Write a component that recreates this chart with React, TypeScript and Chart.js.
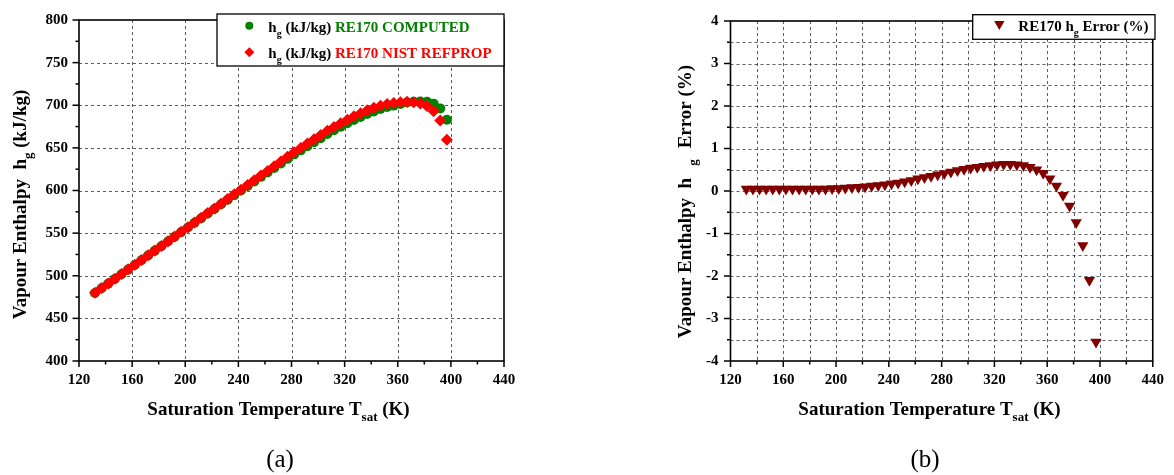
import React, { useEffect, useRef } from "react";
import { Chart, registerables } from "chart.js";

Chart.register(...registerables);

const FONT = "'Liberation Serif', 'Times New Roman', Times, serif";

// Saturation temperature (K)
const TEMPS = [
  132, 137, 142, 147, 152, 157, 162, 167, 172, 177,
  182, 187, 192, 197, 202, 207, 212, 217, 222, 227,
  232, 237, 242, 247, 252, 257, 262, 267, 272, 277,
  282, 287, 292, 297, 302, 307, 312, 317, 322, 327,
  332, 337, 342, 347, 352, 357, 362, 367, 372, 377,
  382, 387, 392, 397,
];

// h_g (kJ/kg) RE170 NIST REFPROP
const HG_NIST = [
  480, 485.5, 491, 496.5, 502, 507.5, 513, 518.5, 524, 529.5,
  535, 540.5, 546, 551.5, 557, 562.5, 568, 573.5, 579, 584.5,
  590, 595.5, 601, 606.5, 612, 617.5, 623, 628.5, 634, 639.5,
  645, 650, 655, 660, 665, 670, 674.5, 679, 683, 687,
  690.5, 694, 697, 699.5, 701.5, 702.5, 703.5, 704, 703.5, 702,
  699, 693, 682, 659.5,
];

// h_g (kJ/kg) RE170 COMPUTED
const HG_COMPUTED = [
  479.8, 485.3, 490.8, 496.3, 501.7, 507.2, 512.7, 518.2, 523.7, 529.2,
  534.7, 540.2, 545.7, 551.2, 556.7, 562.1, 567.5, 573.0, 578.4, 583.8,
  589.2, 594.6, 600.0, 605.3, 610.7, 616.0, 621.2, 626.5, 631.8, 637.1,
  642.4, 647.1, 651.9, 656.6, 661.4, 666.3, 670.6, 674.9, 678.8, 682.7,
  686.2, 689.7, 692.8, 695.6, 698.0, 699.6, 701.5, 703.2, 704.2, 704.5,
  704.2, 701.9, 696.3, 682.9,
];

// RE170 h_g Error (%)
const HG_ERROR = [
  0.05, 0.05, 0.05, 0.05, 0.05, 0.05, 0.05, 0.05, 0.05, 0.05,
  0.05, 0.05, 0.05, 0.06, 0.06, 0.07, 0.08, 0.09, 0.10, 0.12,
  0.13, 0.15, 0.17, 0.19, 0.22, 0.25, 0.29, 0.32, 0.35, 0.38,
  0.41, 0.45, 0.48, 0.51, 0.54, 0.56, 0.58, 0.60, 0.62, 0.63,
  0.63, 0.62, 0.60, 0.56, 0.50, 0.42, 0.29, 0.12, -0.10, -0.35,
  -0.74, -1.28, -2.10, -3.55,
];

type Seg = { t: string; sub?: boolean; color?: string; gap?: number; normal?: boolean };

function segFont(size: number, s: Seg) {
  const sz = s.sub ? Math.round(size * 0.66) : size;
  return `${s.normal ? "" : "bold "}${sz}px ${FONT}`;
}

function richWidth(ctx: CanvasRenderingContext2D, segs: Seg[], size: number) {
  let w = 0;
  for (const s of segs) {
    ctx.font = segFont(size, s);
    w += (s.gap || 0) + ctx.measureText(s.t).width;
  }
  return w;
}

function drawRich(
  ctx: CanvasRenderingContext2D,
  segs: Seg[],
  x: number,
  y: number,
  size: number,
  align: "left" | "center"
) {
  let cx = align === "center" ? x - richWidth(ctx, segs, size) / 2 : x;
  ctx.textBaseline = "alphabetic";
  ctx.textAlign = "left";
  for (const s of segs) {
    ctx.font = segFont(size, s);
    cx += s.gap || 0;
    ctx.fillStyle = s.color || "#000";
    ctx.fillText(s.t, cx, s.sub ? y + size * 0.33 : y);
    cx += ctx.measureText(s.t).width;
  }
}

function drawMarker(ctx: CanvasRenderingContext2D, kind: string, x: number, y: number, r: number, color: string) {
  ctx.fillStyle = color;
  ctx.beginPath();
  if (kind === "circle") {
    ctx.arc(x, y, r, 0, Math.PI * 2);
  } else if (kind === "diamond") {
    ctx.moveTo(x, y - r);
    ctx.lineTo(x + r, y);
    ctx.lineTo(x, y + r);
    ctx.lineTo(x - r, y);
  } else {
    ctx.moveTo(x - r * 0.866, y - r * 0.5);
    ctx.lineTo(x + r * 0.866, y - r * 0.5);
    ctx.lineTo(x, y + r);
  }
  ctx.closePath();
  ctx.fill();
}

type LegendRow = { marker: string; color: string; r: number; mx: number; my: number; tx: number; ty: number; segs: Seg[] };

type Spec = {
  gridX: number;
  gridY: number;
  minorX: number;
  minorY: number;
  majorX: number;
  majorY: number;
  xTitle: { segs: Seg[]; x: number; y: number };
  yTitle: { segs: Seg[]; x: number; y: number };
  legendBox: [number, number, number, number];
  legend: LegendRow[];
  caption: { t: string; x: number; y: number };
};

function framePlugin(spec: Spec) {
  return {
    id: "frame",
    beforeDatasetsDraw(chart: any) {
      const ctx: CanvasRenderingContext2D = chart.ctx;
      const { left, right, top, bottom } = chart.chartArea;
      const xs = chart.scales.x;
      const ys = chart.scales.y;
      ctx.save();
      // grid
      ctx.strokeStyle = "rgba(40,40,40,0.75)";
      ctx.lineWidth = 1;
      ctx.setLineDash([3, 3]);
      for (let v = xs.min + spec.gridX; v < xs.max - 1e-9; v += spec.gridX) {
        const px = Math.round(xs.getPixelForValue(v)) + 0.5;
        ctx.beginPath();
        ctx.moveTo(px, top);
        ctx.lineTo(px, bottom);
        ctx.stroke();
      }
      for (let v = ys.min + spec.gridY; v < ys.max - 1e-9; v += spec.gridY) {
        const py = Math.round(ys.getPixelForValue(v)) + 0.5;
        ctx.beginPath();
        ctx.moveTo(left, py);
        ctx.lineTo(right, py);
        ctx.stroke();
      }
      ctx.setLineDash([]);
      // ticks
      ctx.strokeStyle = "#000";
      ctx.lineWidth = 1.5;
      for (let v = xs.min; v <= xs.max + 1e-9; v += spec.minorX) {
        const px = xs.getPixelForValue(v);
        const major = Math.abs(((v - xs.min) / spec.majorX) - Math.round((v - xs.min) / spec.majorX)) < 1e-6;
        ctx.beginPath();
        ctx.moveTo(px, bottom);
        ctx.lineTo(px, bottom + (major ? 6 : 3.5));
        ctx.stroke();
      }
      for (let v = ys.min; v <= ys.max + 1e-9; v += spec.minorY) {
        const py = ys.getPixelForValue(v);
        const major = Math.abs(((v - ys.min) / spec.majorY) - Math.round((v - ys.min) / spec.majorY)) < 1e-6;
        ctx.beginPath();
        ctx.moveTo(left, py);
        ctx.lineTo(left - (major ? 6.5 : 3.5), py);
        ctx.stroke();
      }
      // frame
      ctx.lineWidth = 1.6;
      ctx.strokeRect(left, top, right - left, bottom - top);
      ctx.restore();
    },
    afterDraw(chart: any) {
      const ctx: CanvasRenderingContext2D = chart.ctx;
      ctx.save();
      // legend
      const [bx, by, bw, bh] = spec.legendBox;
      ctx.fillStyle = "#fff";
      ctx.fillRect(bx, by, bw, bh);
      ctx.strokeStyle = "#000";
      ctx.lineWidth = 1.3;
      ctx.strokeRect(bx, by, bw, bh);
      for (const row of spec.legend) {
        drawMarker(ctx, row.marker, row.mx, row.my, row.r, row.color);
        drawRich(ctx, row.segs, row.tx, row.ty, 15, "left");
      }
      // x title
      drawRich(ctx, spec.xTitle.segs, spec.xTitle.x, spec.xTitle.y, 19, "center");
      // y title
      ctx.save();
      ctx.translate(spec.yTitle.x, spec.yTitle.y);
      ctx.rotate(-Math.PI / 2);
      drawRich(ctx, spec.yTitle.segs, 0, 0, 19, "center");
      ctx.restore();
      // caption
      ctx.font = `25px ${FONT}`;
      ctx.fillStyle = "#000";
      ctx.textAlign = "center";
      ctx.textBaseline = "alphabetic";
      ctx.fillText(spec.caption.t, spec.caption.x, spec.caption.y);
      ctx.restore();
    },
  };
}

const tickFont = { family: FONT, size: 15, weight: "bold" as const };

const X_TITLE: Seg[] = [{ t: "Saturation Temperature T" }, { t: "sat", sub: true }, { t: " (K)" }];

function configA(): any {
  return {
    type: "scatter",
    data: {
      datasets: [
        {
          label: "hg (kJ/kg) RE170 NIST REFPROP",
          data: TEMPS.map((t, i) => ({ x: t, y: HG_NIST[i] })),
          pointStyle: "rectRot",
          pointRadius: 6,
          backgroundColor: "#ff0000",
          borderColor: "#ff0000",
          borderWidth: 0,
          order: 1,
        },
        {
          label: "hg (kJ/kg) RE170 COMPUTED",
          data: TEMPS.map((t, i) => ({ x: t, y: HG_COMPUTED[i] })),
          pointStyle: "circle",
          pointRadius: 5,
          backgroundColor: "#008000",
          borderColor: "#008000",
          borderWidth: 0,
          order: 2,
        },
      ],
    },
    options: {
      responsive: false,
      animation: false,
      devicePixelRatio: 1,
      layout: { padding: { top: 14, right: 83, left: 0, bottom: 0 } },
      plugins: { legend: { display: false }, tooltip: { enabled: false } },
      scales: {
        x: {
          type: "linear",
          min: 120,
          max: 440,
          ticks: { stepSize: 40, autoSkip: false, font: tickFont, color: "#000", padding: 10, maxRotation: 0 },
          grid: { display: false, drawTicks: false },
          border: { display: false },
          afterFit: (s: any) => { s.height = 114; },
        },
        y: {
          type: "linear",
          min: 400,
          max: 800,
          ticks: { stepSize: 50, autoSkip: false, font: tickFont, color: "#000", padding: 11 },
          grid: { display: false, drawTicks: false },
          border: { display: false },
          afterFit: (s: any) => { s.width = 79; },
        },
      },
    },
    plugins: [
      framePlugin({
        gridX: 40, gridY: 50, minorX: 20, minorY: 25, majorX: 40, majorY: 50,
        xTitle: { segs: X_TITLE, x: 278.5, y: 415 },
        yTitle: { segs: [{ t: "Vapour Enthalpy  h" }, { t: "g", sub: true }, { t: " (kJ/kg)" }], x: 26, y: 204.5 },
        legendBox: [217, 14, 287, 52],
        legend: [
          {
            marker: "circle", color: "#008000", r: 4, mx: 249.3, my: 25.7, tx: 268.3, ty: 32,
            segs: [{ t: "h" }, { t: "g", sub: true }, { t: " (kJ/kg) " }, { t: "RE170 COMPUTED", color: "#008000" }],
          },
          {
            marker: "diamond", color: "#ff0000", r: 5, mx: 249.3, my: 52.3, tx: 268.3, ty: 57.7,
            segs: [{ t: "h" }, { t: "g", sub: true }, { t: " (kJ/kg) " }, { t: "RE170 NIST REFPROP", color: "#ff0000" }],
          },
        ],
        caption: { t: "(a)", x: 280, y: 467 },
      }),
    ],
  };
}

function configB(): any {
  return {
    type: "scatter",
    data: {
      datasets: [
        {
          label: "RE170 hg Error (%)",
          data: TEMPS.map((t, i) => ({ x: t, y: HG_ERROR[i] })),
          pointStyle: "triangle",
          rotation: 180,
          pointRadius: 6.5,
          backgroundColor: "#800000",
          borderColor: "#800000",
          borderWidth: 0,
        },
      ],
    },
    options: {
      responsive: false,
      animation: false,
      devicePixelRatio: 1,
      layout: { padding: { top: 14.7, right: 19, left: 0, bottom: 0 } },
      plugins: { legend: { display: false }, tooltip: { enabled: false } },
      scales: {
        x: {
          type: "linear",
          min: 120,
          max: 440,
          ticks: { stepSize: 40, autoSkip: false, font: tickFont, color: "#000", padding: 10, maxRotation: 0 },
          grid: { display: false, drawTicks: false },
          border: { display: false },
          afterFit: (s: any) => { s.height = 114; },
        },
        y: {
          type: "linear",
          min: -4,
          max: 4,
          ticks: { stepSize: 1, autoSkip: false, font: tickFont, color: "#000", padding: 12 },
          grid: { display: false, drawTicks: false },
          border: { display: false },
          afterFit: (s: any) => { s.width = 143.5; },
        },
      },
    },
    plugins: [
      framePlugin({
        gridX: 20, gridY: 0.5, minorX: 20, minorY: 0.5, majorX: 40, majorY: 1,
        xTitle: { segs: X_TITLE, x: 342.5, y: 415 },
        yTitle: {
          segs: [{ t: "Vapour Enthalpy  h" }, { t: "g", sub: true, gap: 12 }, { t: "Error (%)", gap: 11 }],
          x: 103.7,
          y: 201.5,
        },
        legendBox: [385.7, 14.7, 182.3, 24.6],
        legend: [
          {
            marker: "triangle", color: "#800000", r: 6, mx: 412.3, my: 24, tx: 431.3, ty: 30.7,
            segs: [{ t: "RE170 h" }, { t: "g", sub: true }, { t: " Error (%)" }],
          },
        ],
        caption: { t: "(b)", x: 338, y: 467 },
      }),
    ],
  };
}

function ChartCanvas({ make, left }: { make: () => any; left: number }) {
  const ref = useRef<HTMLCanvasElement | null>(null);
  useEffect(() => {
    if (!ref.current) return;
    const chart = new Chart(ref.current, make());
    return () => chart.destroy();
  }, [make]);
  return (
    <canvas
      ref={ref}
      width={587}
      height={475}
      style={{ position: "absolute", left, top: 0, width: 587, height: 475 }}
    />
  );
}

export default function App() {
  return (
    <div style={{ position: "absolute", left: 0, top: 0, width: 1174, height: 475, background: "#fff" }}>
      <ChartCanvas make={configA} left={0} />
      <ChartCanvas make={configB} left={587} />
    </div>
  );
}
